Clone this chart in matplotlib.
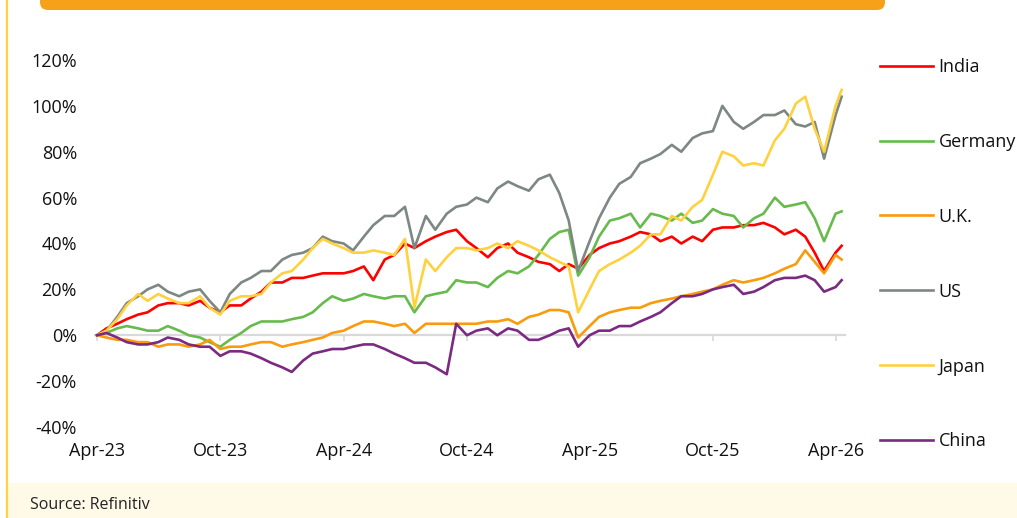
import matplotlib
matplotlib.use("Agg")
import matplotlib.pyplot as plt
import matplotlib.patches as mpatches
from matplotlib.lines import Line2D
import pandas as pd

# ---------------- data (cumulative return, %) ----------------
dates = list(pd.date_range("2023-04-01", "2026-04-01", freq="SMS")) + [pd.Timestamp("2026-04-10")]

india = [0, 3, 5, 7, 9, 10, 13, 14, 14, 13,
         15, 12, 10, 13, 13, 16, 19, 23, 23, 25,
         25, 26, 27, 27, 27, 28, 30, 24, 33, 35,
         40, 38, 41, 43, 45, 46, 41, 38, 34, 38,
         40, 36, 34, 32, 31, 28, 31, 29, 35, 38,
         40, 41, 43, 45, 44, 41, 43, 40, 43, 41,
         46, 47, 47, 48, 48, 49, 47, 44, 46, 43,
         36, 28, 36, 39]
germany = [0, 1, 3, 4, 3, 2, 2, 4, 2, 0,
           -1, -3, -5, -2, 1, 4, 6, 6, 6, 7,
           8, 10, 14, 17, 15, 16, 18, 17, 16, 17,
           17, 10, 17, 18, 19, 24, 23, 23, 21, 25,
           28, 27, 30, 35, 42, 45, 46, 26, 34, 43,
           50, 51, 53, 47, 53, 52, 50, 53, 49, 50,
           55, 53, 52, 47, 51, 53, 60, 56, 57, 58,
           51, 41, 53, 54]
uk = [0, -1, -2, -2, -3, -3, -5, -4, -4, -5,
      -4, -2, -6, -5, -5, -4, -3, -3, -5, -4,
      -3, -2, -1, 1, 2, 4, 6, 6, 5, 4,
      5, 1, 5, 5, 5, 5, 5, 5, 6, 6,
      7, 5, 8, 9, 11, 11, 10, -1, 4, 8,
      10, 11, 12, 12, 14, 15, 16, 17, 18, 19,
      20, 22, 24, 23, 24, 25, 27, 29, 31, 37,
      32, 27, 35, 33]
us = [0, 2, 8, 14, 17, 20, 22, 19, 17, 19,
      20, 15, 10, 18, 23, 25, 28, 28, 33, 35,
      36, 38, 43, 41, 40, 37, 43, 48, 52, 52,
      56, 38, 52, 46, 53, 56, 57, 60, 58, 64,
      67, 65, 63, 68, 70, 62, 50, 28, 41, 51,
      60, 66, 69, 75, 77, 79, 83, 80, 86, 88,
      89, 100, 93, 90, 93, 96, 96, 98, 92, 91,
      93, 77, 96, 104]
japan = [0, 2, 7, 13, 18, 15, 18, 16, 14, 14,
         17, 12, 9, 15, 17, 17, 18, 23, 27, 28,
         33, 38, 42, 40, 38, 36, 36, 37, 36, 35,
         42, 12, 33, 28, 34, 38, 38, 37, 38, 40,
         38, 41, 39, 37, 34, 32, 30, 10, 20, 28,
         31, 33, 36, 39, 44, 44, 52, 50, 56, 59,
         70, 80, 78, 74, 75, 74, 85, 90, 101, 104,
         90, 80, 100, 107]
china = [0, 1, -1, -3, -4, -4, -3, -1, -2, -4,
         -5, -5, -9, -7, -7, -8, -10, -12, -14, -16,
         -11, -8, -7, -6, -6, -5, -4, -4, -6, -8,
         -10, -12, -12, -14, -17, 5, 0, 2, 3, 0,
         3, 2, -2, -2, 0, 2, 3, -5, 0, 2,
         2, 4, 4, 6, 8, 10, 14, 17, 17, 18,
         20, 21, 22, 18, 19, 21, 24, 25, 25, 26,
         24, 19, 21, 24]

series_names = ["India", "Germany", "U.K.", "US", "Japan", "China"]
series_values = [india, germany, uk, us, japan, china]
series_colors = ["#FF0000", "#66BB4C", "#F99B0C", "#7D8882", "#FFD13F", "#7A2A80"]

tick_dates = pd.date_range("2023-04-01", "2026-04-01", freq="6MS")
tick_labels = ["Apr-23", "Oct-23", "Apr-24", "Oct-24", "Apr-25", "Oct-25", "Apr-26"]
y_ticks = [-40, -20, 0, 20, 40, 60, 80, 100, 120]

# ---------------- figure ----------------
W, H = 1017, 518
plt.rcParams["font.family"] = ["Open Sans", "DejaVu Sans"]
fig = plt.figure(figsize=(W / 100, H / 100), dpi=100)
fig.patch.set_facecolor("white")

# decorations (pixel coords)
fig.patches.append(mpatches.FancyBboxPatch((40, H - 10), 845, 40,
                                           boxstyle="round,pad=0,rounding_size=8",
                                           transform=None, facecolor="#F7A01A",
                                           edgecolor="none", zorder=0))
fig.patches.append(mpatches.Rectangle((8, 0), W - 8, 35, transform=None,
                                      facecolor="#FFF9E8", edgecolor="none", zorder=0))
fig.lines.append(Line2D([7, 7], [0, H], transform=None, color="#FFD23F", lw=1.6, zorder=1))
fig.text(30 / W, 13 / H, "Source: Refinitiv", fontsize=11.5, color="#222222",
         va="center", ha="left")

ax = fig.add_axes([95 / W, 1 - 427 / H, (845 - 95) / W, (427 - 60) / H])
ax.set_facecolor("none")

handles = []
for name, vals, col in zip(series_names, series_values, series_colors):
    h, = ax.plot(dates, vals, color=col, lw=1.9, label=name, solid_joinstyle="round")
    handles.append(h)

ax.set_ylim(-40, 120)
ax.set_xlim(pd.Timestamp("2023-03-29"), pd.Timestamp("2026-04-15"))

for s in ["top", "right", "left"]:
    ax.spines[s].set_visible(False)
ax.spines["bottom"].set_position(("data", 0))
ax.spines["bottom"].set_color("#D9D9D9")
ax.spines["bottom"].set_linewidth(1.6)
ax.spines["bottom"].set_zorder(0.5)

ax.set_xticks(tick_dates)
ax.set_xticklabels(tick_labels)
ax.tick_params(axis="x", direction="out", length=4, width=1.2, color="#D9D9D9",
               pad=73, labelsize=13, labelcolor="#111111")
ax.set_yticks(y_ticks)
ax.set_yticklabels([f"{v}%" for v in y_ticks])
ax.tick_params(axis="y", length=0, pad=13, labelsize=13, labelcolor="#111111")

leg = ax.legend(handles=handles, loc="upper left",
                bbox_to_anchor=(880 / W, 1 - 58 / H), bbox_transform=fig.transFigure,
                frameon=False, fontsize=13, handlelength=2.95, handletextpad=0.3,
                labelspacing=3.15, borderpad=0, borderaxespad=0)
for t in leg.get_texts():
    t.set_color("#111111")

fig.savefig("out.png", dpi=100)
